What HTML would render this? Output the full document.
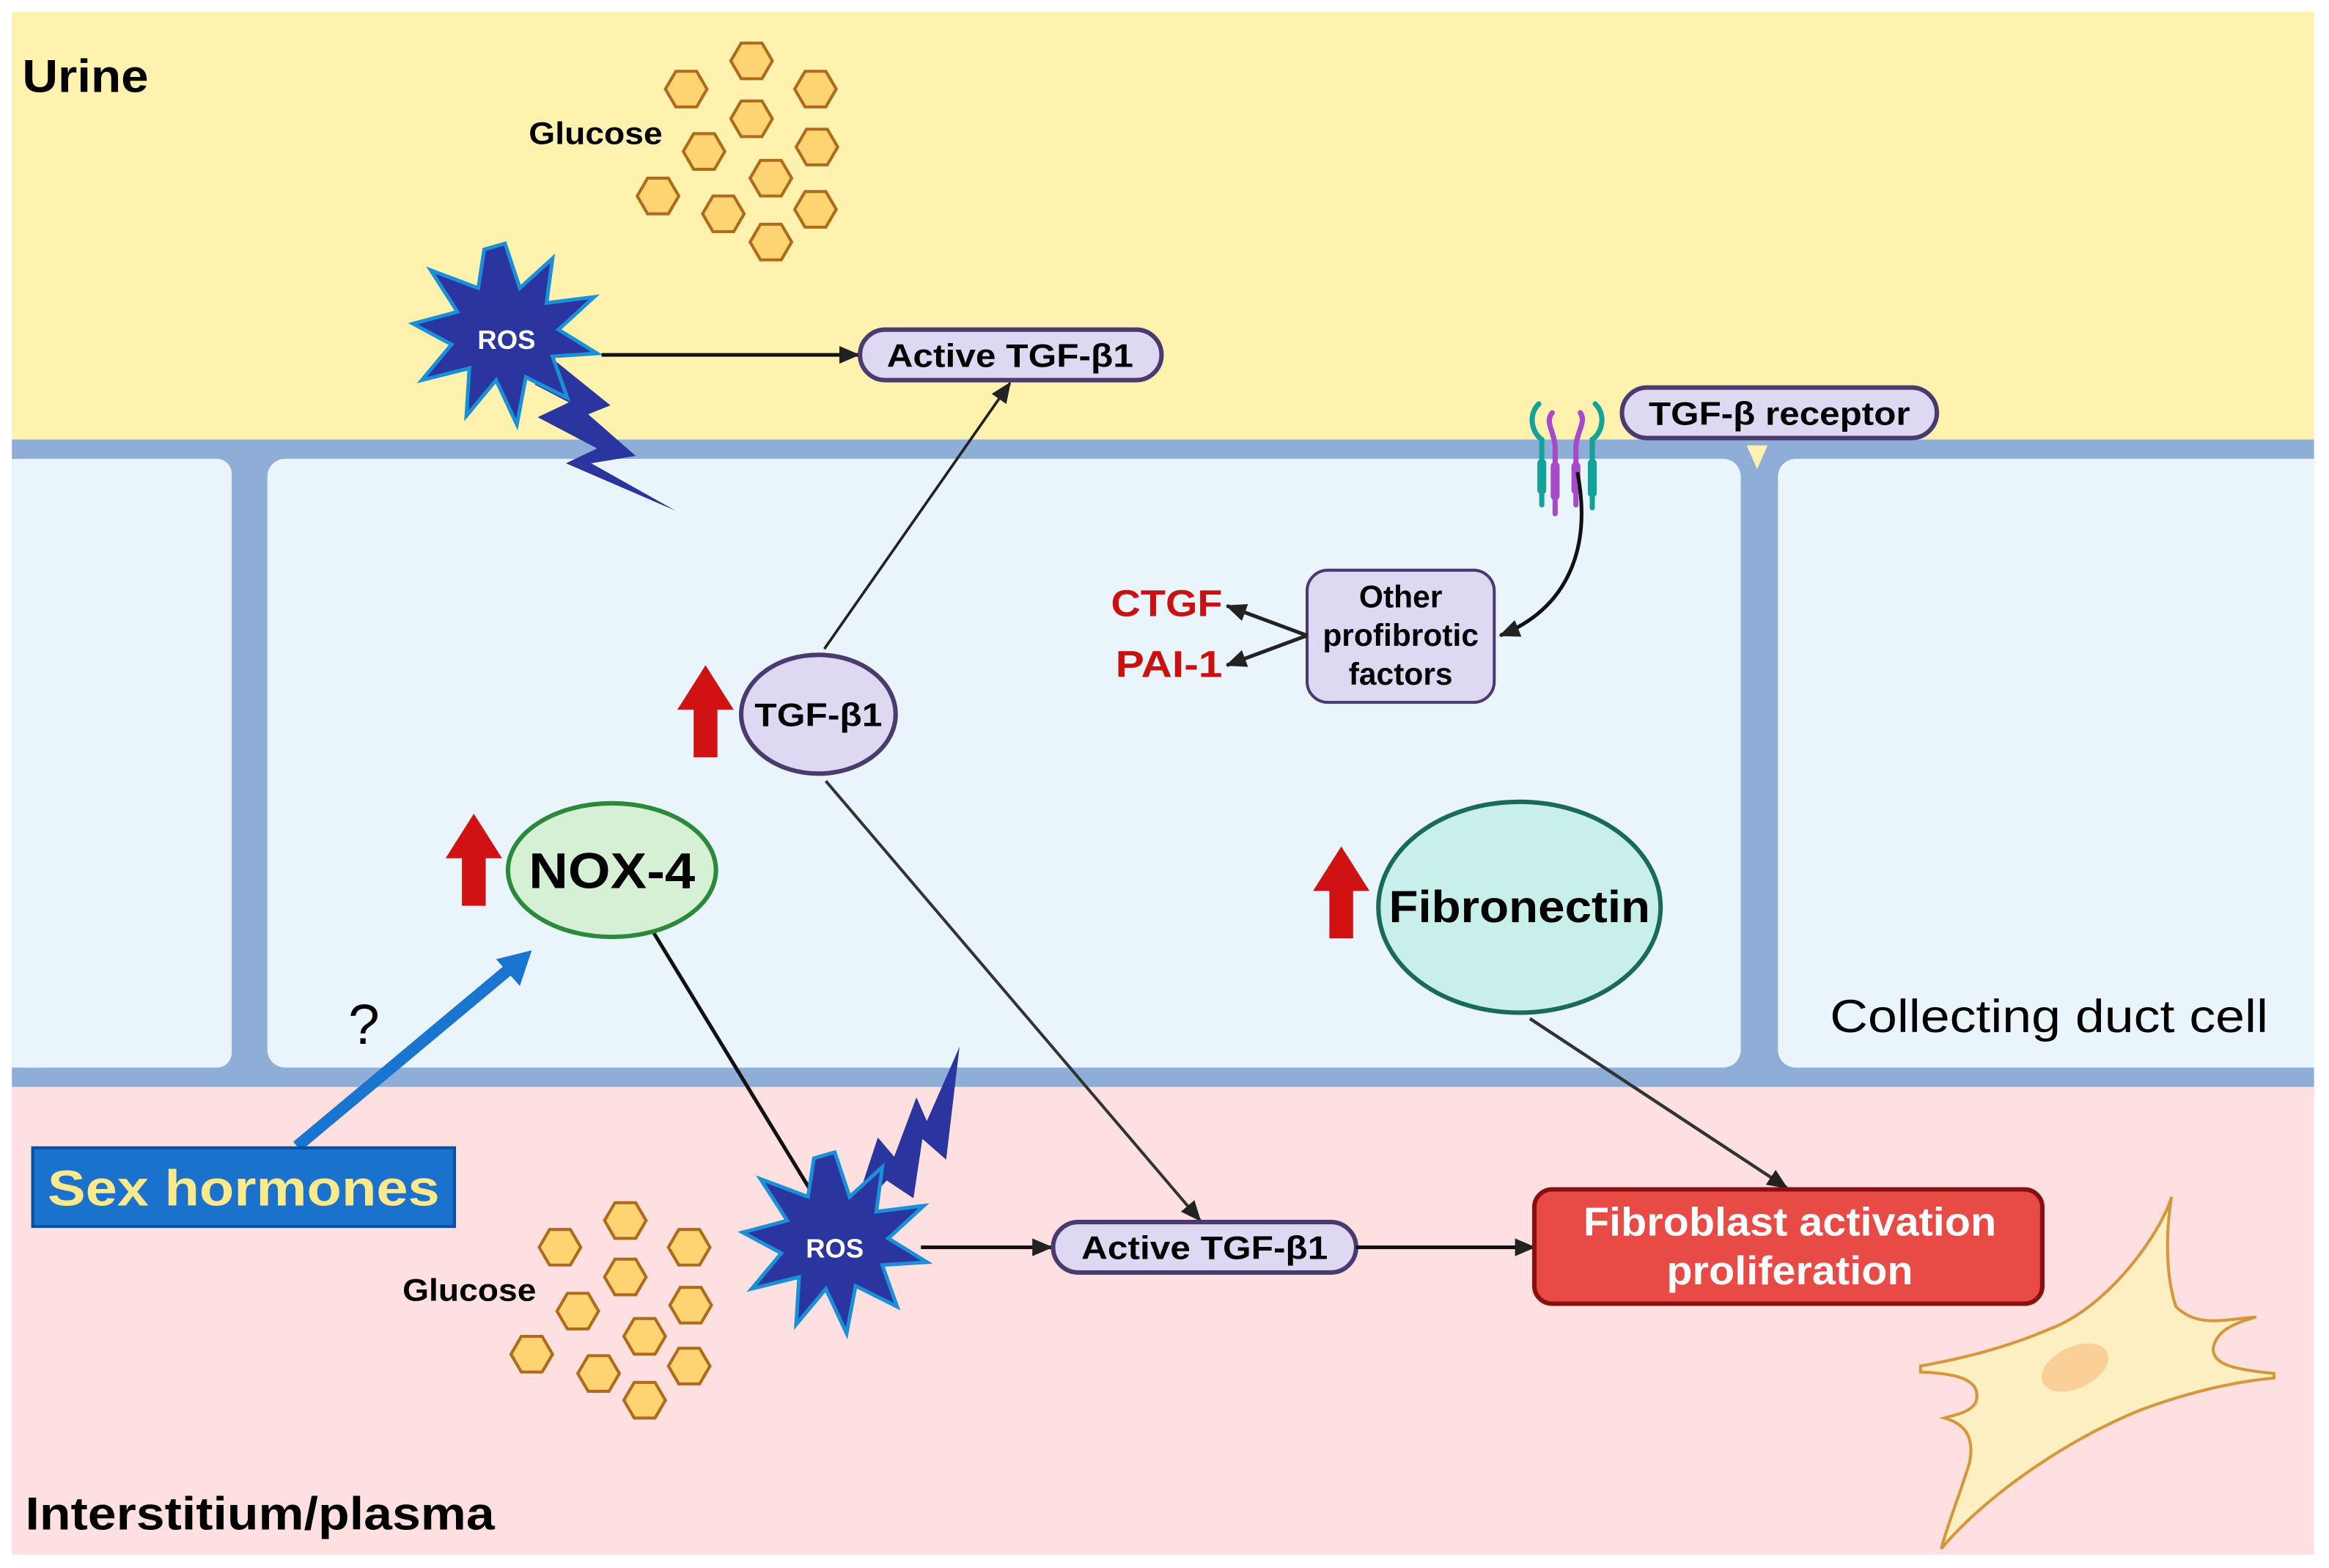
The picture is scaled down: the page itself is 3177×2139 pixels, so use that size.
<!DOCTYPE html>
<html><head><meta charset="utf-8"><style>
html,body{margin:0;padding:0;background:#fff;}
svg{display:block;}
text{font-family:"Liberation Sans",sans-serif;}
</style></head><body>
<svg width="3177" height="2139" viewBox="0 0 1568 1056" preserveAspectRatio="none" xmlns="http://www.w3.org/2000/svg">
<defs>
<marker id="ah2" markerWidth="14" markerHeight="14" refX="13" refY="7" orient="auto" markerUnits="userSpaceOnUse" viewBox="0 0 14 14"><path d="M0,1 L14,7 L0,13Z" fill="#222"/></marker>
<g id="hex"><polygon points="-7,-12 7,-12 14,0 7,12 -7,12 -14,0" fill="#fed372" stroke="#b06a1c" stroke-width="2"/></g>
<g id="ros"><polygon points="0,-62 10,-32 32,-52 28,-22 60,-26 36,-4 62,12 32,14 42,42 14,28 8,60 -6,30 -26,54 -24,22 -56,30 -36,6 -62,-8 -32,-16 -50,-44 -18,-32 -14,-58" fill="#2a35a0" stroke="#1a90d8" stroke-width="2.5"/></g>
<g id="up"><polygon points="0,0 19,30 8,30 8,62 -8,62 -8,30 -19,30" fill="#d01212"/></g>
</defs>
<rect x="0" y="0" width="1568" height="1056" fill="#fff"/>
<rect x="8" y="8" width="1550" height="292" fill="#fef2ae"/>
<rect x="8" y="725" width="1550" height="322" fill="#fde0df"/>
<rect x="8" y="296" width="1550" height="436" fill="#8eaed8"/>
<rect x="8" y="309" width="148" height="410" rx="10" fill="#eaf5fb"/>
<rect x="8" y="309" width="20" height="410" fill="#eaf5fb"/>
<rect x="180" y="309" width="992" height="410" rx="12" fill="#eaf5fb"/>
<rect x="1197" y="309" width="380" height="410" rx="12" fill="#eaf5fb"/>
<rect x="1558" y="0" width="10" height="1056" fill="#fff"/>

<text x="15" y="62" font-size="31" font-weight="bold" textLength="85" lengthAdjust="spacingAndGlyphs">Urine</text>
<text x="17" y="1030" font-size="31" font-weight="bold" textLength="316" lengthAdjust="spacingAndGlyphs">Interstitium/plasma</text>
<text x="1232" y="695" font-size="31" textLength="295" lengthAdjust="spacingAndGlyphs">Collecting duct cell</text>

<use href="#hex" x="506" y="41"/><use href="#hex" x="462" y="60"/><use href="#hex" x="549" y="60"/>
<use href="#hex" x="506" y="80"/><use href="#hex" x="474" y="102"/><use href="#hex" x="550" y="99"/>
<use href="#hex" x="519" y="120"/><use href="#hex" x="443" y="132"/><use href="#hex" x="487" y="144"/>
<use href="#hex" x="549" y="141"/><use href="#hex" x="519" y="163"/>
<text x="356" y="97" font-size="21" font-weight="bold" textLength="90" lengthAdjust="spacingAndGlyphs">Glucose</text>
<use href="#hex" x="421" y="822"/><use href="#hex" x="377" y="840"/><use href="#hex" x="464" y="840"/>
<use href="#hex" x="421" y="860"/><use href="#hex" x="389" y="883"/><use href="#hex" x="465" y="879"/>
<use href="#hex" x="434" y="900"/><use href="#hex" x="358" y="912"/><use href="#hex" x="403" y="925"/>
<use href="#hex" x="464" y="920"/><use href="#hex" x="434" y="943"/>
<text x="271" y="876" font-size="21" font-weight="bold" textLength="90" lengthAdjust="spacingAndGlyphs">Glucose</text>

<polygon points="375,244 411,273 396,279 428,307 398,312 455,344 381,312 402,302 362,281 383,271 360,259" fill="#2a35a0"/>
<use href="#ros" x="340" y="226"/>
<text x="341" y="235" font-size="18" font-weight="bold" fill="#fff" text-anchor="middle">ROS</text>
<line x1="405" y1="239" x2="578" y2="239" stroke="#111" stroke-width="2.5" marker-end="url(#ah2)"/>
<rect x="579" y="222" width="203" height="34" rx="17" fill="#ded8f3" stroke="#4a3a70" stroke-width="3"/>
<text x="680" y="247" font-size="22" font-weight="bold" text-anchor="middle" textLength="166" lengthAdjust="spacingAndGlyphs">Active TGF-β1</text>

<line x1="555" y1="437" x2="680" y2="258" stroke="#222" stroke-width="1.8" marker-end="url(#ah2)"/>
<line x1="556" y1="526" x2="808" y2="822" stroke="#333" stroke-width="2" marker-end="url(#ah2)"/>
<use href="#up" x="475" y="448"/>
<ellipse cx="551" cy="481" rx="52" ry="40" fill="#ded8f3" stroke="#4a3a70" stroke-width="3"/>
<text x="551" y="489" font-size="22" font-weight="bold" text-anchor="middle" textLength="86" lengthAdjust="spacingAndGlyphs">TGF-β1</text>

<line x1="440" y1="628" x2="552" y2="812" stroke="#111" stroke-width="2.5"/>
<use href="#up" x="319" y="548"/>
<ellipse cx="412" cy="586" rx="70" ry="45" fill="#d5f0d5" stroke="#2a8a3a" stroke-width="3"/>
<text x="412" y="598" font-size="34" font-weight="bold" text-anchor="middle" textLength="112" lengthAdjust="spacingAndGlyphs">NOX-4</text>
<text x="245" y="703" font-size="38" text-anchor="middle">?</text>
<line x1="200" y1="772" x2="346" y2="650" stroke="#1a75d0" stroke-width="8"/>
<polygon points="358,640 334,646 350,664" fill="#1a75d0"/>
<rect x="22" y="773" width="284" height="53" fill="#1a72cc" stroke="#0b4fa0" stroke-width="2"/>
<text x="164" y="812" font-size="34" font-weight="bold" fill="#fbe98c" text-anchor="middle" textLength="264" lengthAdjust="spacingAndGlyphs">Sex hormones</text>

<polygon points="646,705 637,781 621,767 615,807 597,795 573,821 591,766 602,779 617,739 624,755" fill="#2a35a0"/>
<use href="#ros" x="562" y="838"/>
<text x="562" y="847" font-size="18" font-weight="bold" fill="#fff" text-anchor="middle">ROS</text>
<line x1="620" y1="840" x2="708" y2="840" stroke="#111" stroke-width="2.5" marker-end="url(#ah2)"/>
<rect x="709" y="823" width="204" height="34" rx="17" fill="#ded8f3" stroke="#4a3a70" stroke-width="3"/>
<text x="811" y="848" font-size="22" font-weight="bold" text-anchor="middle" textLength="166" lengthAdjust="spacingAndGlyphs">Active TGF-β1</text>
<line x1="913" y1="840" x2="1033" y2="840" stroke="#111" stroke-width="2.5" marker-end="url(#ah2)"/>

<line x1="1030" y1="686" x2="1203" y2="800" stroke="#333" stroke-width="2.2" marker-end="url(#ah2)"/>
<use href="#up" x="903" y="570"/>
<ellipse cx="1023" cy="611" rx="95" ry="71" fill="#c8efe9" stroke="#1a6a5a" stroke-width="3"/>
<text x="1023" y="621" font-size="30" font-weight="bold" text-anchor="middle" textLength="176" lengthAdjust="spacingAndGlyphs">Fibronectin</text>

<rect x="1033" y="801" width="342" height="77" rx="12" fill="#e84a45" stroke="#8a1010" stroke-width="3"/>
<text x="1205" y="832" font-size="27" font-weight="bold" fill="#fff" text-anchor="middle" textLength="278" lengthAdjust="spacingAndGlyphs">Fibroblast activation</text>
<text x="1205" y="865" font-size="27" font-weight="bold" fill="#fff" text-anchor="middle" textLength="166" lengthAdjust="spacingAndGlyphs">proliferation</text>

<path d="M1462,806 C1455,830 1420,880 1380,895 C1350,908 1320,915 1293,920 L1293,924 C1320,925 1335,930 1330,945 C1325,952 1315,953 1309,955 C1320,958 1330,965 1326,985 C1320,1005 1310,1030 1307,1043 C1330,1015 1380,975 1440,950 C1480,935 1510,930 1531,928 L1531,925 C1500,922 1490,918 1490,908 C1492,898 1500,892 1519,887 C1500,888 1480,895 1465,880 C1458,860 1458,830 1462,806Z" fill="#fdefc2" stroke="#d8963a" stroke-width="2"/>
<ellipse cx="1397" cy="921" rx="24" ry="14" transform="rotate(-25 1397 921)" fill="#fbcf98"/>

<g stroke-linecap="round" fill="none">
<path d="M1036,272 C1028,280 1032,292 1038,296 L1038,340" stroke="#14a39a" stroke-width="3.5"/>
<path d="M1074,272 C1082,280 1078,292 1072,296 L1072,342" stroke="#14a39a" stroke-width="3.5"/>
<path d="M1045,278 C1040,284 1046,290 1047,300 L1047,346" stroke="#a64ac9" stroke-width="3.5"/>
<path d="M1064,278 C1068,284 1062,290 1061,300 L1061,340" stroke="#a64ac9" stroke-width="3.5"/>
<line x1="1038" y1="312" x2="1038" y2="330" stroke="#14a39a" stroke-width="6"/>
<line x1="1072" y1="312" x2="1072" y2="332" stroke="#14a39a" stroke-width="6"/>
<line x1="1047" y1="314" x2="1047" y2="334" stroke="#a64ac9" stroke-width="6"/>
<line x1="1061" y1="314" x2="1061" y2="330" stroke="#a64ac9" stroke-width="6"/>
</g>
<polygon points="1176,300 1190,300 1183,316" fill="#fef2ae"/>
<rect x="1092" y="261" width="212" height="34" rx="17" fill="#ded8f3" stroke="#4a3a70" stroke-width="3"/>
<text x="1198" y="286" font-size="22" font-weight="bold" text-anchor="middle" textLength="176" lengthAdjust="spacingAndGlyphs">TGF-β receptor</text>
<path d="M1062,318 C1072,370 1055,410 1010,428" fill="none" stroke="#111" stroke-width="2.5" marker-end="url(#ah2)"/>

<rect x="880" y="384" width="126" height="89" rx="14" fill="#ded8f3" stroke="#4a3a70" stroke-width="2"/>
<text x="943" y="409" font-size="21" font-weight="bold" text-anchor="middle">Other</text>
<text x="943" y="435" font-size="21" font-weight="bold" text-anchor="middle">profibrotic</text>
<text x="943" y="461" font-size="21" font-weight="bold" text-anchor="middle">factors</text>
<line x1="880" y1="428" x2="826" y2="408" stroke="#222" stroke-width="2.5" marker-end="url(#ah2)"/>
<line x1="880" y1="428" x2="826" y2="448" stroke="#222" stroke-width="2.5" marker-end="url(#ah2)"/>
<text x="748" y="415" font-size="25" font-weight="bold" fill="#cc1010" textLength="75" lengthAdjust="spacingAndGlyphs">CTGF</text>
<text x="751" y="456" font-size="25" font-weight="bold" fill="#cc1010" textLength="72" lengthAdjust="spacingAndGlyphs">PAI-1</text>
</svg>
</body></html>
